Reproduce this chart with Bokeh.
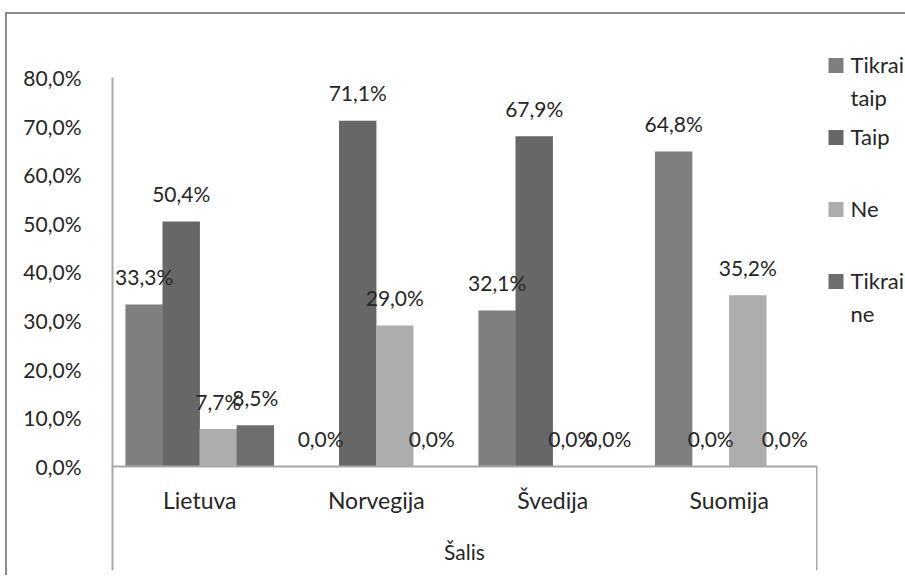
from bokeh.plotting import figure
from bokeh.layouts import row
from bokeh.models import (FactorRange, Range1d, ColumnDataSource, FixedTicker, Span, Label)
from bokeh.transform import dodge
from bokeh.core.properties import value
from bokeh.embed import file_html
from bokeh.resources import INLINE

countries = ["Lietuva", "Norvegija", "Švedija", "Suomija"]
series_names = ["Tikrai taip", "Taip", "Ne", "Tikrai ne"]
tikrai_taip = [33.3, 0.0, 32.1, 64.8]
taip = [50.4, 71.1, 67.9, 0.0]
ne = [7.7, 29.0, 0.0, 35.2]
tikrai_ne = [8.5, 0.0, 0.0, 0.0]
y_ticks = [0, 10, 20, 30, 40, 50, 60, 70, 80]
y_tick_labels = ["0,0%", "10,0%", "20,0%", "30,0%", "40,0%", "50,0%", "60,0%", "70,0%", "80,0%"]
x_title = "Šalis"

colors = ["#7f7f7f", "#676767", "#adadad", "#6e6e6e"]
offsets = [-0.315, -0.105, 0.105, 0.315]
bar_w = 0.212
FONT = "Lato"
TXT = "#262626"
AX = "#a8a8a8"
Y_MIN = -21.4    # frame extends below the value axis to hold the category box
Y_TOP = 95.84    # frame extends above 80 % so it starts at the top of the canvas
H = 575
FRAME_B = 5
LEG_W = 85

def fmt(v):
    return f"{v:.1f}".replace(".", ",") + "%"

p = figure(x_range=FactorRange(*countries), y_range=Range1d(Y_MIN, Y_TOP),
           width=820, height=H, output_backend="svg", toolbar_location=None,
           min_border_left=111, min_border_top=0, min_border_bottom=FRAME_B, min_border_right=3)
p.border_fill_color = None
p.background_fill_color = None

all_vals = [tikrai_taip, taip, ne, tikrai_ne]
sources = []
for vals, col, off in zip(all_vals, colors, offsets):
    src = ColumnDataSource(dict(country=countries, val=vals, lbl=[fmt(v) for v in vals]))
    sources.append(src)
    p.vbar(x=dodge("country", off, range=p.x_range), top="val", width=bar_w,
           source=src, fill_color=col, line_color=None)
for src, off in zip(sources, offsets):
    p.text(x=dodge("country", off, range=p.x_range), y="val", text="lbl", source=src,
           text_align="center", text_baseline="middle", y_offset=-28,
           text_font=value(FONT), text_font_size="21px", text_color=TXT)

# category labels under the value axis
cat_src = ColumnDataSource(dict(country=countries, y=[0] * len(countries)))
p.text(x="country", y="y", text="country", source=cat_src, text_align="center",
       text_baseline="middle", y_offset=34, text_font=value(FONT),
       text_font_size="23px", text_color=TXT)
p.add_layout(Label(x=len(countries) / 2, y=0, text=x_title, text_align="center",
                   text_baseline="middle", y_offset=-85, text_font=FONT,
                   text_font_size="21px", text_color=TXT))

# value axis line, category axis line and right edge of the category box
p.segment(x0=[0], y0=[y_ticks[-1]], x1=[0], y1=[Y_MIN], line_color=AX, line_width=4)
p.add_layout(Span(location=0, dimension="width", line_color=AX, line_width=2))
p.segment(x0=[len(countries)], y0=[0], x1=[len(countries)], y1=[Y_MIN],
          line_color=AX, line_width=3)

p.xgrid.grid_line_color = None
p.ygrid.grid_line_color = None
p.outline_line_color = None
p.xaxis.visible = False

p.yaxis.ticker = FixedTicker(ticks=y_ticks)
p.yaxis.major_label_overrides = {t: l for t, l in zip(y_ticks, y_tick_labels)}
p.yaxis.major_tick_line_color = None
p.yaxis.minor_tick_line_color = None
p.yaxis.major_label_standoff = 24
p.yaxis.axis_line_color = None
p.yaxis.major_label_text_font = FONT
p.yaxis.major_label_text_font_size = "21px"
p.yaxis.major_label_text_color = TXT

# legend panel (pixel-like coordinates, y measured up from the frame bottom)
FH = H - FRAME_B
leg = figure(x_range=Range1d(0, LEG_W), y_range=Range1d(0, FH), width=LEG_W, height=H,
             output_backend="svg", toolbar_location=None, min_border_left=0,
             min_border_right=0, min_border_top=0, min_border_bottom=FRAME_B,
             x_axis_location=None, y_axis_location=None)
leg.border_fill_color = None
leg.background_fill_color = None
leg.outline_line_color = None
leg.xgrid.grid_line_color = None
leg.ygrid.grid_line_color = None

first_center, pitch, line_gap = 65, 72, 33
centers = [FH - (first_center + pitch * i) for i in range(len(series_names))]
leg.scatter(x=[15.5] * len(series_names), y=centers, marker="square", size=15,
            fill_color=colors, line_color=None)
lines1 = [n.split(" ")[0] for n in series_names]
lines2 = [" ".join(n.split(" ")[1:]) for n in series_names]
mid1 = [c + 1 for c in centers]
mid2 = [m - line_gap for m in mid1]
leg.text(x=[30] * len(series_names), y=mid1, text=lines1, text_baseline="middle",
         text_font=value(FONT), text_font_size="22px", text_color=TXT)
leg.text(x=[30] * len(series_names), y=mid2, text=lines2, text_baseline="middle",
         text_font=value(FONT), text_font_size="22px", text_color=TXT)

layout = row(p, leg, spacing=0)
layout.styles = {
    "background-image": "linear-gradient(#8c8c8c,#8c8c8c), linear-gradient(#8c8c8c,#8c8c8c)",
    "background-size": "100% 2px, 2px 100%",
    "background-position": "5px 12px, 5px 12px",
    "background-repeat": "no-repeat",
}

open("out.html", "w").write(file_html(layout, INLINE))
